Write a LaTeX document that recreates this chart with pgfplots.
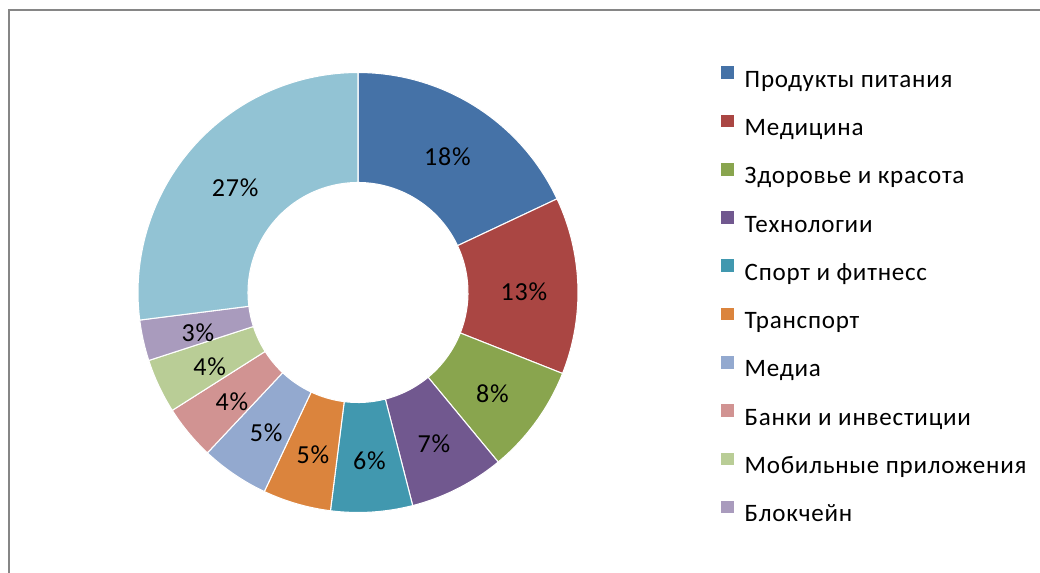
\documentclass[border=0pt]{standalone}
\usepackage{fontspec}
\setmainfont{Carlito}[LetterSpace=3]
\usepackage{pgfplots}
\usepackage{pgfplotstable}
\pgfplotsset{compat=1.18}

\definecolor{c0}{HTML}{4572A7}
\definecolor{c1}{HTML}{AA4643}
\definecolor{c2}{HTML}{89A54E}
\definecolor{c3}{HTML}{71588F}
\definecolor{c4}{HTML}{4198AF}
\definecolor{c5}{HTML}{DB843D}
\definecolor{c6}{HTML}{93A9CF}
\definecolor{c7}{HTML}{D19392}
\definecolor{c8}{HTML}{B9CD96}
\definecolor{c9}{HTML}{A99BBD}
\definecolor{c10}{HTML}{92C3D4}
\definecolor{frame}{HTML}{868686}

\newcommand{\labelfont}{\fontsize{19.5}{23}\selectfont}

\pgfplotstableread[col sep=comma]{
name,value
Продукты питания,18
Медицина,13
Здоровье и красота,8
Технологии,7
Спорт и фитнесс,6
Транспорт,5
Медиа,5
Банки и инвестиции,4
Мобильные приложения,4
Блокчейн,3
Другое,27
}\donut

\begin{document}
\begin{tikzpicture}
\useasboundingbox (0,0) rectangle (780pt,429pt);
\begin{axis}[
  x=0.75pt, y=0.75pt,
  xmin=0, xmax=1040, ymin=0, ymax=572,
  hide axis, clip=false,
  at={(0,0)}, anchor=south west,
  legend image code/.code={%
    \fill[#1, draw=none] (0pt,2.3pt) rectangle (9.8pt,11.8pt);
    \path[draw=none, fill=none] (0pt,0pt) -- (18pt,0pt);},
  legend cell align=left,
  legend style={
    at={(axis cs:720.7,514)}, anchor=north west,
    draw=none, fill=none, inner sep=0pt, outer sep=0pt,
    row sep=0pt, column sep=0pt,
    font=\fontsize{18.8}{22}\selectfont,
    nodes={inner sep=0pt, outer sep=0pt, text height=22pt, text depth=14.2pt},
  },
]
% frame
\draw[frame, line width=1.5pt] (axis cs:8.5,-20) -- (axis cs:8.5,562) -- (axis cs:1060,562);

\def\cum{0}
\pgfplotsforeachungrouped \i in {0,...,10}{%
  \pgfplotstablegetelem{\i}{value}\of\donut
  \let\val\pgfplotsretval
  \pgfmathsetmacro\aS{90-3.6*\cum}%
  \pgfmathsetmacro\aE{90-3.6*(\cum+\val)}%
  \pgfmathsetmacro\aM{(\aS+\aE)/2}%
  \edef\doit{%
    \noexpand\fill[c\i, draw=white, line width=0.8pt, line join=round]
      (axis cs:358,279.5) ++(\aS:165pt) arc[start angle=\aS, end angle=\aE, radius=165pt]
      -- ++(\aE:-82.5pt) arc[start angle=\aE, end angle=\aS, radius=82.5pt] -- cycle;
    \noexpand\path (axis cs:359,275.5) ++(\aM:123.75pt)
      node[font=\noexpand\labelfont, text=black] {\val\noexpand\%};
  }%
  \doit
  \pgfmathsetmacro\cum{\cum+\val}%
}

\addlegendimage{c0}\addlegendentry{Продукты питания}
\addlegendimage{c1}\addlegendentry{Медицина}
\addlegendimage{c2}\addlegendentry{Здоровье и красота}
\addlegendimage{c3}\addlegendentry{Технологии}
\addlegendimage{c4}\addlegendentry{Спорт и фитнесс}
\addlegendimage{c5}\addlegendentry{Транспорт}
\addlegendimage{c6}\addlegendentry{Медиа}
\addlegendimage{c7}\addlegendentry{Банки и инвестиции}
\addlegendimage{c8}\addlegendentry{Мобильные приложения}
\addlegendimage{c9}\addlegendentry{Блокчейн}
\end{axis}
\end{tikzpicture}
\end{document}
